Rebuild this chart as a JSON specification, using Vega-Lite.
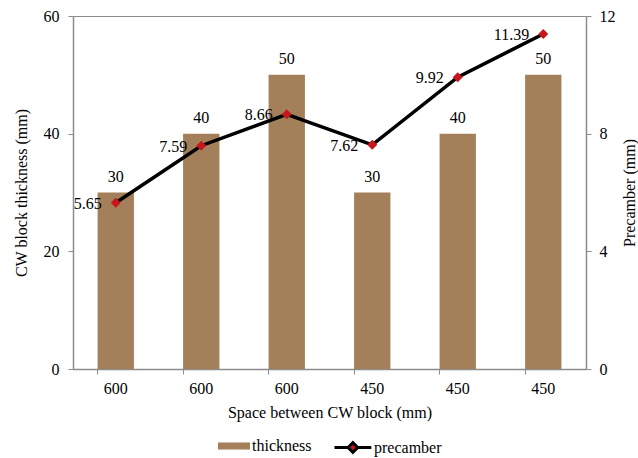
{
  "$schema": "https://vega.github.io/schema/vega-lite/v6.json",
  "width": 513,
  "height": 353,
  "autosize": {"type": "none"},
  "padding": {"left": 73, "top": 16, "right": 52, "bottom": 89},
  "background": "white",
  "config": {
    "font": "Times New Roman",
    "text": {"font": "Times New Roman"},
    "view": {"stroke": "#8c8c8c", "strokeWidth": 1},
    "axis": {
      "labelFont": "Times New Roman",
      "titleFont": "Times New Roman",
      "labelFontSize": 16,
      "titleFontSize": 16,
      "titleFontWeight": "normal",
      "labelColor": "#000000",
      "titleColor": "#000000",
      "domainColor": "#8c8c8c",
      "tickColor": "#8c8c8c",
      "domainWidth": 1.5,
      "tickWidth": 1,
      "tickSize": 5,
      "grid": false
    },
    "legend": {
      "labelFont": "Times New Roman",
      "labelFontSize": 16,
      "labelColor": "#000000",
      "orient": "bottom",
      "direction": "horizontal",
      "offset": 18,
      "layout": {"bottom": {"anchor": "middle", "direction": "horizontal", "margin": 21}}
    }
  },
  "data": {
    "values": [
      {"slot": "1|600", "thickness": 30, "precamber": 5.65},
      {"slot": "2|600", "thickness": 40, "precamber": 7.59},
      {"slot": "3|600", "thickness": 50, "precamber": 8.66},
      {"slot": "4|450", "thickness": 30, "precamber": 7.62},
      {"slot": "5|450", "thickness": 40, "precamber": 9.92},
      {"slot": "6|450", "thickness": 50, "precamber": 11.39}
    ]
  },
  "encoding": {
    "x": {
      "field": "slot",
      "type": "ordinal",
      "sort": null,
      "scale": {"paddingInner": 0.575, "paddingOuter": 0.2875},
      "axis": {
        "title": "Space between CW block (mm)",
        "labelExpr": "split(datum.value, '|')[1]",
        "labelAngle": 0,
        "bandPosition": 0,
        "labelPadding": 6,
        "titlePadding": 8
      }
    }
  },
  "layer": [
    {
      "encoding": {
        "y": {
          "field": "thickness",
          "type": "quantitative",
          "scale": {"domain": [0, 60]},
          "axis": {
            "title": "CW block thickness (mm)",
            "values": [0, 20, 40, 60],
            "orient": "left",
            "labelPadding": 9,
            "titlePadding": 14
          }
        }
      },
      "layer": [
        {
          "mark": {"type": "bar"},
          "encoding": {
            "fill": {
              "datum": "thickness",
              "scale": {"range": ["#a3805a"]},
              "legend": {
                "title": null,
                "symbolType": "M-1,-0.44H3V0.44H-1Z",
                "symbolSize": 256,
                "symbolStrokeWidth": 0,
                "labelOffset": 18
              }
            }
          }
        },
        {
          "mark": {"type": "text", "baseline": "alphabetic", "dy": -11, "fontSize": 16, "color": "#000000"},
          "encoding": {"text": {"field": "thickness", "type": "quantitative"}}
        }
      ]
    },
    {
      "encoding": {
        "y": {
          "field": "precamber",
          "type": "quantitative",
          "scale": {"domain": [0, 12]},
          "axis": {
            "title": "Precamber (mm)",
            "values": [0, 4, 8, 12],
            "orient": "right",
            "titleAngle": 270,
            "labelPadding": 8,
            "titlePadding": 22
          }
        }
      },
      "layer": [
        {
          "mark": {"type": "line", "strokeWidth": 3.5},
          "encoding": {
            "stroke": {
              "datum": "precamber",
              "scale": {"range": ["#000000"]},
              "legend": {
                "title": null,
                "symbolType": "M-1,0H0.7M1.9,0H3.6M0.7,0L1.3,-0.6L1.9,0L1.3,0.6Z",
                "symbolSize": 256,
                "symbolStrokeWidth": 3,
                "symbolFillColor": "#c8161d",
                "labelOffset": 22
              }
            }
          }
        },
        {
          "mark": {"type": "point", "shape": "diamond", "filled": true, "size": 100, "color": "#c8161d", "opacity": 1}
        },
        {
          "mark": {"type": "text", "align": "right", "baseline": "middle", "dx": -14, "dy": 1, "fontSize": 16, "color": "#000000"},
          "encoding": {"text": {"field": "precamber", "type": "quantitative", "format": ".2f"}}
        }
      ]
    }
  ],
  "resolve": {"scale": {"y": "independent", "fill": "independent", "stroke": "independent"}}
}
